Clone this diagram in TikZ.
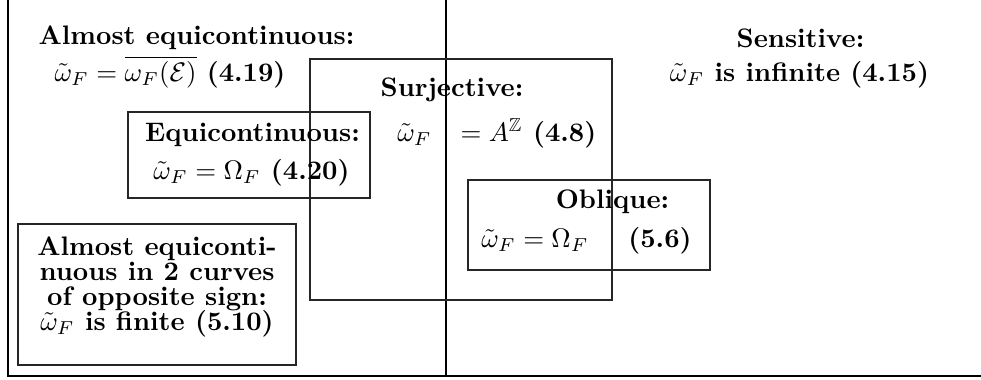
\documentclass[tikz,border=0pt]{standalone}
\usepackage{amsmath,amssymb}
\begin{document}
\begin{tikzpicture}[x=0.3735pt,y=-0.3735pt,
  lbl/.style={anchor=base,inner sep=0pt,font=\bfseries},
  frame/.style={line width=0.75pt},
  setbox/.style={draw,line width=0.5pt,black!85}]
\useasboundingbox (0,0) rectangle (981,379);
% outer frame lines
\coordinate (tl) at (8,0);
\coordinate (bl) at (8,376);
\coordinate (br) at (981,376);
\coordinate (mt) at (446,0);
\coordinate (mb) at (446,376);
\draw[frame] (tl) -- (bl) -- (br);
\draw[frame] (mt) -- (mb);
% boxes
\draw[setbox] (310,59) rectangle (612,300);
\draw[setbox] (128,112) rectangle (370,198);
\draw[setbox] (468,180) rectangle (710,270);
\draw[setbox] (18,224) rectangle (296,365);
% almost equicontinuous
\node[lbl] (ae1) at (196.5,44) {Almost equicontinuous:};
\node[lbl] (ae2) at (170,81) {$\tilde\omega_F=\overline{\omega_F(\mathcal{E})}$ (4.19)};
% surjective
\node[lbl] (su1) at (452,96) {Surjective:};
\node[lbl] (su2) at (414.5,141) {$\tilde\omega_F$};
\node[lbl] (su3) at (528.5,141) {$=A^{\mathbb{Z}}$ (4.8)};
% equicontinuous
\node[lbl] (eq1) at (252.5,141) {Equicontinuous:};
\node[lbl] (eq2) at (251.5,179) {$\tilde\omega_F=\Omega_F$ (4.20)};
% sensitive
\node[lbl] (se1) at (800.5,47) {Sensitive:};
\node[lbl] (se2) at (799.5,81) {$\tilde\omega_F$ is infinite (4.15)};
% oblique
\node[lbl] (ob1) at (612.5,208) {Oblique:};
\node[lbl] (ob2) at (535,247) {$\tilde\omega_F=\Omega_F$};
\node[lbl] (ob3) at (660,247) {(5.6)};
% almost equicontinuous in 2 curves
\node[lbl] (ac1) at (157,255) {Almost equiconti-};
\node[lbl] (ac2) at (157,280) {nuous in 2 curves};
\node[lbl] (ac3) at (157,305) {of opposite sign:};
\node[lbl] (ac4) at (157,330) {$\tilde\omega_F$ is finite (5.10)};
\end{tikzpicture}
\end{document}
